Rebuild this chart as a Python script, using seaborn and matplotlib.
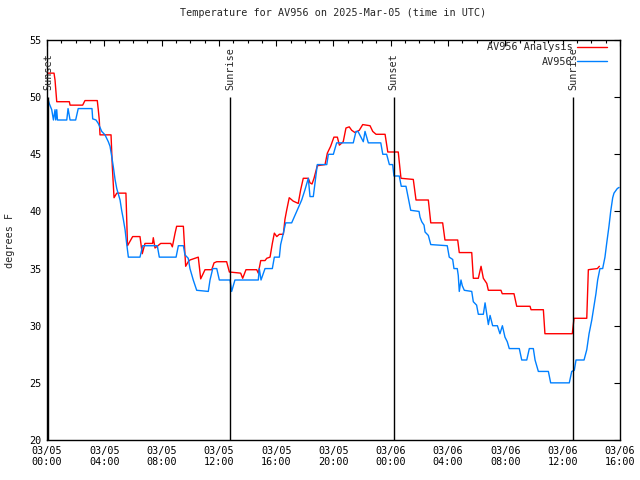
"""
Temperature for AV956, analysis vs observations, 2025-Mar-05 (UTC).
"""

import matplotlib
matplotlib.use("Agg")
import matplotlib.pyplot as plt
import matplotlib.dates as mdates
import numpy as np
import pandas as pd
import seaborn as sns

# ---------------------------------------------------------------------------
# Data (hours since 2025-03-05 00:00 UTC, degrees F)
# ---------------------------------------------------------------------------

START = pd.Timestamp("2025-03-05 00:00")
END = pd.Timestamp("2025-03-06 16:00")

analysis_hours = [
    0.00, 0.49, 0.56, 0.68, 1.56, 1.61, 2.49, 2.65, 3.51, 3.58, 3.65, 3.70,
    4.47, 4.56, 4.68, 4.87, 5.51, 5.62, 5.98, 6.49, 6.65, 6.84, 7.37, 7.42,
    7.54, 7.94, 8.64, 8.75, 8.94, 9.05, 9.52, 9.68, 9.86, 9.98, 10.56, 10.73,
    11.03, 11.50, 11.66, 11.85, 12.54, 12.73, 13.52, 13.66, 13.89, 14.64,
    14.75, 14.92, 15.22, 15.34, 15.57, 15.73, 15.87, 16.04, 16.22, 16.50,
    16.61, 16.73, 16.91, 17.19, 17.54, 17.71, 17.89, 18.24, 18.36, 18.50,
    18.64, 18.87, 19.41, 19.57, 19.80, 20.03, 20.27, 20.41, 20.68, 20.87,
    21.10, 21.27, 21.50, 21.80, 22.04, 22.55, 22.74, 22.97, 23.60, 23.79,
    24.52, 24.71, 25.57, 25.76, 26.62, 26.79, 27.62, 27.78, 28.67, 28.78,
    29.65, 29.76, 30.11, 30.30, 30.46, 30.70, 30.81, 31.69, 31.78, 32.60,
    32.79, 33.72, 33.79, 34.65, 34.76, 35.81, 36.67, 36.79, 37.68, 37.79,
    38.42, 38.56,
]
analysis_temp = [
    52.1, 52.1, 51.5, 49.6, 49.6, 49.3, 49.3, 49.7, 49.7, 48.9, 48.0, 46.7,
    46.7, 43.9, 41.2, 41.6, 41.6, 37.0, 37.8, 37.8, 36.3, 37.2, 37.2, 37.7,
    36.8, 37.2, 37.2, 36.9, 38.1, 38.7, 38.7, 35.2, 35.6, 35.75, 36.0, 34.1,
    34.9, 34.9, 35.5, 35.6, 35.6, 34.7, 34.6, 34.15, 34.9, 34.9,
    34.6, 35.7, 35.7, 35.9, 36.0, 37.2, 38.1, 37.8, 38.0, 38.0,
    39.3, 40.1, 41.2, 40.9, 40.7, 41.9, 42.9, 42.9, 42.5, 42.4,
    42.9, 44.0, 44.1, 45.1, 45.7, 46.5, 46.5, 45.8, 46.1, 47.3,
    47.4, 47.1, 46.9, 47.1, 47.6, 47.5, 47.0, 46.75, 46.75, 45.2,
    45.2, 42.9, 42.8, 41.0, 41.0, 39.0, 39.0, 37.5, 37.5, 36.4,
    36.4, 34.15, 34.15, 35.2, 34.15, 33.7, 33.1, 33.1, 32.8, 32.8,
    31.7, 31.7, 31.4, 31.4, 29.3, 29.3, 29.3, 30.65, 30.65, 34.9,
    35.0, 35.2,
]

obs_hours = [
    0.05, 0.17, 0.33, 0.45, 0.56, 0.61, 0.68, 0.73, 1.38, 1.47, 1.61, 2.00,
    2.18, 3.14, 3.19, 3.42, 3.58, 3.82, 4.05, 4.28, 4.40, 4.52, 4.63, 4.75,
    4.87, 5.10, 5.21, 5.33, 5.45, 5.56, 5.68, 6.49, 6.68, 7.70, 7.84, 9.01,
    9.17, 9.52, 9.63, 9.86, 9.98, 10.21, 10.45, 11.26, 11.38, 11.57, 11.85,
    12.03, 12.78, 12.89, 13.12, 14.75, 14.82, 14.94, 15.22, 15.73, 15.87,
    16.22, 16.31, 16.50, 16.66, 17.08, 17.43, 17.78, 18.01, 18.24, 18.36,
    18.59, 18.76, 18.87, 19.53, 19.64, 19.99, 20.22, 21.38, 21.57, 21.71,
    22.08, 22.20, 22.43, 23.30, 23.44, 23.71, 23.90, 24.13, 24.22, 24.59,
    24.73, 25.06, 25.22, 25.39, 25.97, 26.04, 26.16, 26.32, 26.39, 26.62,
    26.79, 27.94, 28.08, 28.32, 28.41, 28.64, 28.71, 28.78, 28.90, 28.99,
    29.13, 29.65, 29.76, 29.99, 30.11, 30.46, 30.58, 30.70, 30.81, 30.93,
    31.11, 31.44, 31.62, 31.79, 31.97, 32.13, 32.27, 32.97, 33.14, 33.49,
    33.67, 33.95, 34.07, 34.30, 35.00, 35.16, 36.46, 36.63, 36.81, 36.93,
    37.49, 37.68, 37.84, 38.03, 38.18, 38.32, 38.44, 38.60, 38.79, 38.95,
    39.07, 39.23, 39.35, 39.49, 39.58, 39.81, 39.93,
]
obs_temp = [
    49.9, 49.4, 48.9, 48.0, 48.9, 48.0, 48.9, 48.0, 48.0, 49.0, 48.0, 48.0,
    49.0, 49.0, 48.1, 48.0, 47.7, 47.0, 46.7, 46.1, 45.7, 44.8, 43.9, 42.8,
    42.0, 41.0, 40.1, 39.3, 38.4, 37.2, 36.0, 36.0, 37.0, 37.0, 36.0, 36.0,
    37.0, 37.0, 36.2, 35.9, 35.0, 34.0, 33.1, 33.0, 34.0, 35.0, 35.0,
    34.0, 34.0, 33.0, 34.0, 34.0, 35.0, 34.0, 35.0, 35.0, 36.0,
    36.0, 37.1, 38.1, 39.0, 39.0, 40.0, 41.0, 41.9, 42.9, 41.3,
    41.3, 43.0, 44.1, 44.1, 45.0, 45.0, 46.0, 46.0, 47.0, 47.0,
    46.1, 47.0, 46.0, 46.0, 45.0, 45.0, 44.1, 44.1, 43.1, 43.1,
    42.2, 42.2, 41.2, 40.1, 40.0, 39.5, 39.1, 38.8, 38.2, 37.9,
    37.1, 37.0, 36.0, 35.8, 35.0, 35.0, 34.4, 33.0, 34.0, 33.5,
    33.1, 33.0, 32.1, 31.8, 31.0, 31.0, 32.0, 31.0, 30.1, 30.9,
    30.0, 30.0, 29.3, 30.0, 29.0, 28.6, 28.0, 28.0, 27.0, 27.0,
    28.0, 28.0, 27.0, 26.0, 26.0, 25.0, 25.0, 26.0, 26.1, 27.0,
    27.0, 27.9, 29.3, 30.5, 31.7, 32.8, 34.0, 35.0, 35.0, 36.0,
    37.2, 38.7, 40.0, 41.2, 41.6, 42.0, 42.1,
]

sun_hours = [0.09, 12.77, 24.2, 36.75]
sun_labels = ["Sunset", "Sunrise", "Sunset", "Sunrise"]

series_names = ["AV956 Analysis", "AV956"]
series_colors = ["#ff0000", "#0080ff"]

# ---------------------------------------------------------------------------
# Table
# ---------------------------------------------------------------------------

df = pd.concat([
    pd.DataFrame({"time": START + pd.to_timedelta(analysis_hours, unit="h"),
                  "temp": analysis_temp, "series": series_names[0]}),
    pd.DataFrame({"time": START + pd.to_timedelta(obs_hours, unit="h"),
                  "temp": obs_temp, "series": series_names[1]}),
], ignore_index=True)

sun_times = START + pd.to_timedelta(sun_hours, unit="h")

# ---------------------------------------------------------------------------
# Figure
# ---------------------------------------------------------------------------

sns.set_style("white")
plt.rcParams["font.family"] = ["DejaVu Sans Mono"]
FS = 7.3

fig = plt.figure(figsize=(6.4, 4.8), dpi=100)
ax = fig.add_axes([47 / 640, 40 / 480, 573 / 640, 400 / 480])

sns.lineplot(data=df, x="time", y="temp", hue="series",
             hue_order=series_names, palette=series_colors,
             estimator=None, sort=False, linewidth=1.0, ax=ax)

# sunrise / sunset markers
ax.vlines(sun_times, 20, 50, color="black", linewidth=1.0)
for t, lab in zip(sun_times, sun_labels):
    ax.text(t, 50.6, lab, rotation=90, ha="center", va="bottom",
            fontsize=FS)

ax.set_xlim(START, END)
ax.set_ylim(20, 55)
ax.set_yticks(np.arange(20, 56, 5))
ax.xaxis.set_major_locator(mdates.HourLocator(byhour=range(0, 24, 4)))
ax.xaxis.set_minor_locator(mdates.HourLocator())
ax.xaxis.set_major_formatter(mdates.DateFormatter("%m/%d\n%H:%M"))

ax.tick_params(which="both", direction="in", top=True, right=True,
               labelsize=FS, colors="black")
ax.tick_params(which="major", length=4, width=0.8, pad=4)
ax.tick_params(which="minor", length=2, width=0.8)
for sp in ax.spines.values():
    sp.set_color("black")
    sp.set_linewidth(1.0)

ax.set_xlabel("")
ax.set_ylabel("degrees F", fontsize=FS, labelpad=10)
ax.set_title("Temperature for AV956 on 2025-Mar-05 (time in UTC)",
             fontsize=FS, pad=17)

ax.legend(loc="upper right", bbox_to_anchor=(1 - 8 / 573, 1 + 3 / 400),
          frameon=False, markerfirst=False,
          fontsize=FS, handlelength=3.0, handletextpad=0.4,
          labelspacing=0.45, borderaxespad=0.2, borderpad=0.3)

fig.savefig("out.png", dpi=100)
